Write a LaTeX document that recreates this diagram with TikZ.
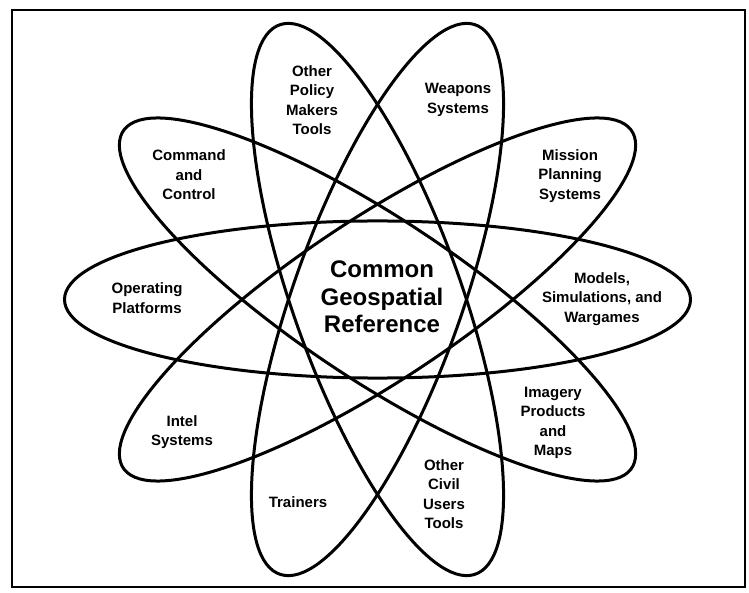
\documentclass[tikz,border=0pt]{standalone}
\usepackage{fontspec}
\setmainfont{Liberation Sans}
\tikzset{
  orbit/.style={draw=black, line width=3pt},
  lbl/.style={align=center, inner sep=0pt, font=\bfseries\fontsize{15}{19.5}\selectfont},
  core/.style={align=center, inner sep=0pt, font=\bfseries\fontsize{24}{27.5}\selectfont},
  frame/.style={draw=black, line width=2.2pt}
}
\begin{document}
\begin{tikzpicture}[x=1pt, y=1pt]
\useasboundingbox (0,0) rectangle (749,592);
\fill[white] (0,0) rectangle (749,592);
\draw[frame] (12,582) rectangle (745,5);
\coordinate (ctr) at (377.5,292.5);
\begin{scope}[shift={(ctr)}, yscale=0.924]
  \draw[orbit, rotate=0]   (0,0) ellipse [x radius=313pt, y radius=85pt];
  \draw[orbit, rotate=36]  (0,0) ellipse [x radius=313pt, y radius=85pt];
  \draw[orbit, rotate=72]  (0,0) ellipse [x radius=313pt, y radius=85pt];
  \draw[orbit, rotate=108] (0,0) ellipse [x radius=313pt, y radius=85pt];
  \draw[orbit, rotate=144] (0,0) ellipse [x radius=313pt, y radius=85pt];
\end{scope}
\node[core] (core) at (382,295) {Common\\Geospatial\\Reference};
\node[lbl] (policy) at (312,492) {Other\\Policy\\Makers\\Tools};
\node[lbl] (weapons) at (458,492) {Weapons\\Systems};
\node[lbl] (command) at (189,417) {Command\\and\\Control};
\node[lbl] (mission) at (570,416) {Mission\\Planning\\Systems};
\node[lbl] (operating) at (147,294) {Operating\\Platforms};
\node[lbl] (models) at (602,293) {Models,\\Simulations, and\\Wargames};
\node[lbl] (intel) at (182,160) {Intel\\Systems};
\node[lbl] (imagery) at (553,169) {Imagery\\Products\\and\\Maps};
\node[lbl] (trainers) at (298,90) {Trainers};
\node[lbl] (civil) at (444,98) {Other\\Civil\\Users\\Tools};
\end{tikzpicture}
\end{document}
